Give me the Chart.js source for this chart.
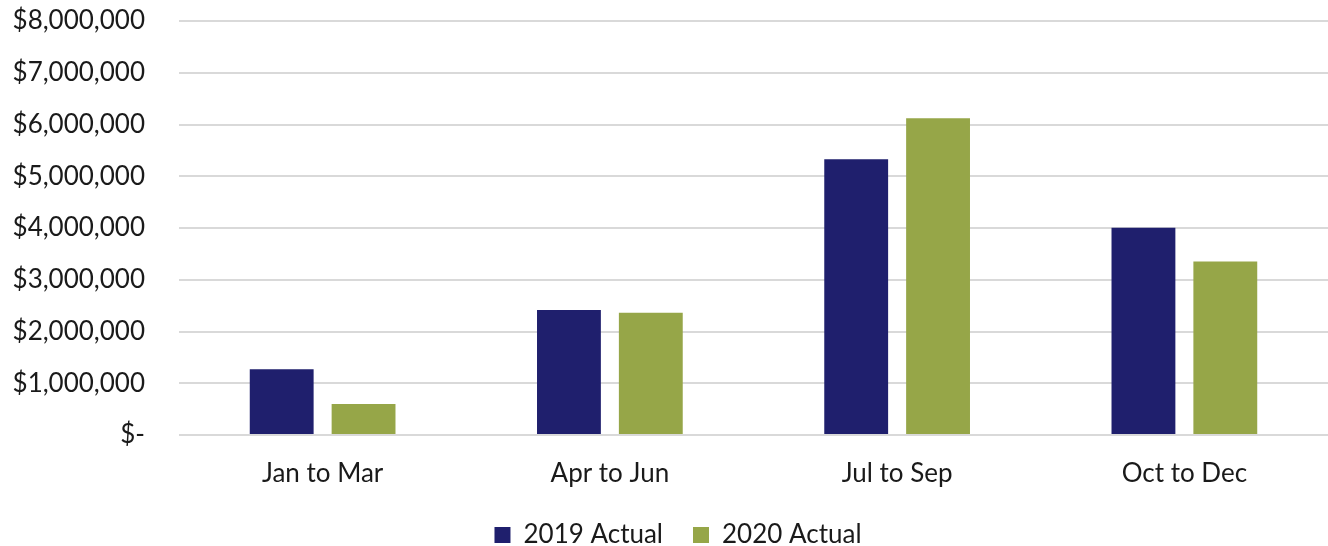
<!DOCTYPE html>
<html>
<head>
<meta charset="utf-8">
<script src="https://cdn.jsdelivr.net/npm/chart.js@4"></script>
<style>
  html, body { margin: 0; padding: 0; background: #fff; }
  #wrap { width: 1328px; height: 546px; }
</style>
</head>
<body>
<div id="wrap"><canvas id="chart" width="1328" height="546"></canvas></div>
<script>
// Quarterly revenue
const quarters = ['Jan to Mar', 'Apr to Jun', 'Jul to Sep', 'Oct to Dec'];
const actual2019 = [1270000, 2415000, 5330000, 4005000];
const actual2020 = [600000, 2360000, 6120000, 3355000];
const seriesNames = ['2019 Actual', '2020 Actual'];
const yTicks = [0, 1000000, 2000000, 3000000, 4000000, 5000000, 6000000, 7000000, 8000000];

const fontFamily = 'Lato, "Open Sans", sans-serif';
const textColor = '#1a1a1a';

function money(v) {
    if (v === 0) return '$-';
    return '$' + v.toLocaleString('en-US');
}

// the legend in the original sits a little right of the canvas centre
const legendShift = {
    id: 'legendShift',
    beforeDraw(chart) {
        if (chart.legend) chart.legend.left = 28;
    }
};

new Chart(document.getElementById('chart').getContext('2d'), {
    type: 'bar',
    data: {
        labels: quarters,
        datasets: [
            { label: seriesNames[0], data: actual2019, backgroundColor: '#1F1F6D' },
            { label: seriesNames[1], data: actual2020, backgroundColor: '#96A648' }
        ]
    },
    options: {
        responsive: false,
        animation: false,
        categoryPercentage: 0.57,
        barPercentage: 0.78,
        // legend is item + padding + 10 high, so pull it down past the edge a bit
        layout: { padding: { top: 21, right: 0, left: 0, bottom: -12 } },
        plugins: {
            tooltip: { enabled: false },
            legend: {
                position: 'bottom',
                labels: {
                    color: textColor,
                    font: { family: fontFamily, size: 26 },
                    boxWidth: 16,
                    boxHeight: 16,
                    padding: 30
                }
            }
        },
        scales: {
            x: {
                afterFit: scale => { scale.height = 57; },
                grid: { display: false },
                border: { display: false },
                ticks: {
                    color: textColor,
                    font: { family: fontFamily, size: 26 },
                    padding: 15
                }
            },
            y: {
                min: 0,
                max: 8000000,
                afterBuildTicks: scale => { scale.ticks = yTicks.map(v => ({ value: v })); },
                afterFit: scale => {
                    scale.width = 179;
                    scale.paddingTop = 0;
                    scale.paddingBottom = 0;
                },
                grid: { color: '#d9d9d9', lineWidth: 2, drawTicks: false },
                border: { display: false },
                ticks: {
                    color: textColor,
                    font: { family: fontFamily, size: 26 },
                    padding: 34,
                    callback: v => money(v)
                }
            }
        }
    },
    plugins: [legendShift]
});
</script>
</body>
</html>
